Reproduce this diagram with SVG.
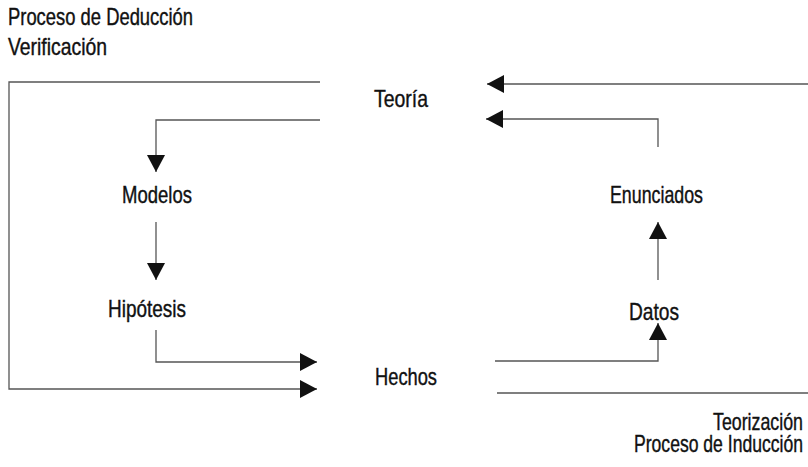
<svg xmlns="http://www.w3.org/2000/svg" width="808" height="467" viewBox="0 0 808 467">
<style>
text{font-family:"Liberation Sans","Arial",sans-serif;font-size:24px;fill:#111;stroke:#111;stroke-width:0.4;}
.c{fill:none;stroke:#555;stroke-width:1.3;}
</style>
<defs>
<marker id="ah" viewBox="0 0 17 18" refX="17" refY="9" markerWidth="17" markerHeight="18" markerUnits="userSpaceOnUse" orient="auto">
<path d="M0,0 L17,9 L0,18 Z" fill="#111"/>
</marker>
</defs>
<rect width="808" height="467" fill="#fff"/>
<g id="titles">
<text transform="translate(8,25) scale(0.75,1)" textLength="246.7" lengthAdjust="spacingAndGlyphs">Proceso de Deducción</text>
<text transform="translate(8,55) scale(0.75,1)" textLength="132" lengthAdjust="spacingAndGlyphs">Verificación</text>
<text transform="translate(713,430) scale(0.75,1)" textLength="120" lengthAdjust="spacingAndGlyphs">Teorización</text>
<text transform="translate(634,452) scale(0.75,1)" textLength="225.3" lengthAdjust="spacingAndGlyphs">Proceso de Inducción</text>
</g>
<g id="connectors">
<path class="c" d="M320,82 H9 V389 H317" marker-end="url(#ah)"/>
<path class="c" d="M320,120 H156 V172" marker-end="url(#ah)"/>
<path class="c" d="M156,222 V280" marker-end="url(#ah)"/>
<path class="c" d="M156,330 V362 H317" marker-end="url(#ah)"/>
<path class="c" d="M495,361 H658 V323" marker-end="url(#ah)"/>
<path class="c" d="M658,280 V222" marker-end="url(#ah)"/>
<path class="c" d="M658,147 V119 H486" marker-end="url(#ah)"/>
<path class="c" d="M497,393 H815 V84 H487" marker-end="url(#ah)"/>
</g>
<g id="teoria"><text transform="translate(374,107) scale(0.75,1)" textLength="72" lengthAdjust="spacingAndGlyphs">Teoría</text></g>
<g id="modelos"><text transform="translate(122,203) scale(0.75,1)" textLength="93.3" lengthAdjust="spacingAndGlyphs">Modelos</text></g>
<g id="hipotesis"><text transform="translate(108,317) scale(0.75,1)" textLength="104" lengthAdjust="spacingAndGlyphs">Hipótesis</text></g>
<g id="hechos"><text transform="translate(375,385) scale(0.75,1)" textLength="82.7" lengthAdjust="spacingAndGlyphs">Hechos</text></g>
<g id="datos"><text transform="translate(629,320) scale(0.75,1)" textLength="66.7" lengthAdjust="spacingAndGlyphs">Datos</text></g>
<g id="enunciados"><text transform="translate(610,203) scale(0.75,1)" textLength="124" lengthAdjust="spacingAndGlyphs">Enunciados</text></g>
</svg>
